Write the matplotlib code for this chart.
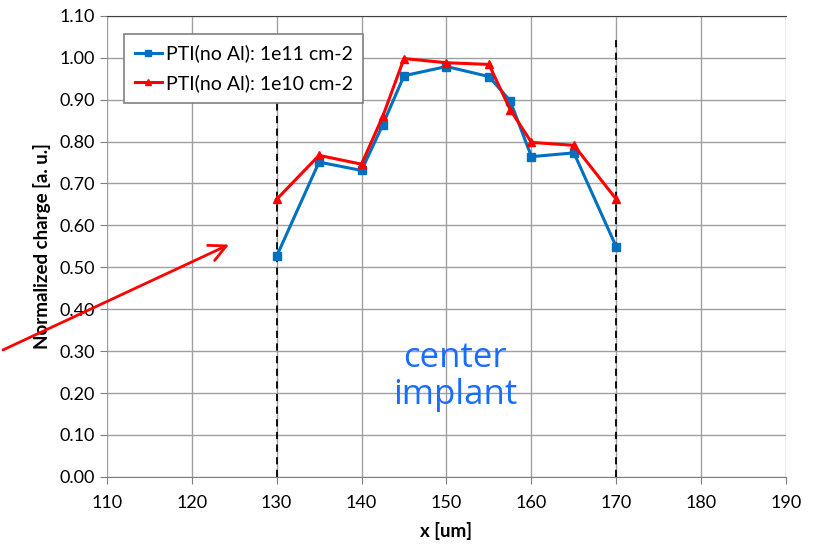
import matplotlib.pyplot as plt

# Values
x_pos = [130, 135, 140, 142.5, 145, 150, 155, 157.5, 160, 165, 170]
charge_1e11 = [0.526, 0.751, 0.731, 0.840, 0.957, 0.979, 0.955, 0.897, 0.764, 0.773, 0.548]
charge_1e10 = [0.662, 0.767, 0.746, 0.860, 0.998, 0.988, 0.984, 0.876, 0.798, 0.791, 0.662]
label_1e11 = 'PTI(no Al): 1e11 cm-2'
label_1e10 = 'PTI(no Al): 1e10 cm-2'
implant_edges = [130, 170]

plt.rcParams['font.family'] = ['Lato', 'DejaVu Sans']

fig = plt.figure(figsize=(8.14, 5.45), dpi=100)
ax = fig.add_axes([0.131, 0.125, 0.835, 0.846])

# dashed lines marking the implant edges
for xe in implant_edges:
    ax.plot([xe, xe], [0, 1.05], color='black', linestyle=(0, (4, 3)), linewidth=1.3, zorder=2)

ax.plot(x_pos, charge_1e11, color='#0070C0', marker='s', markersize=6, linewidth=2.2,
        label=label_1e11, zorder=3)
ax.plot(x_pos, charge_1e10, color='#FF0000', marker='^', markersize=6, linewidth=2.2,
        label=label_1e10, zorder=3)

ax.set_xlim(110, 190)
ax.set_ylim(0, 1.10)
ax.set_xticks(range(110, 191, 10))
ax.set_yticks([i / 10 for i in range(12)])
ax.set_yticklabels([f'{i / 10:.2f}' for i in range(12)])
ax.grid(True, color='#a0a0a0', linewidth=1.0)
ax.set_axisbelow(True)
for side in ['left', 'right']:
    ax.spines[side].set_visible(False)
ax.spines['top'].set_color('#404040')
ax.spines['bottom'].set_color('#808080')
ax.tick_params(axis='both', colors='#808080', labelcolor='black', labelsize=13, length=5)
ax.tick_params(axis='x', pad=8)

ax.set_xlabel('x [um]', fontsize=13.5, fontweight='bold', labelpad=8)
ax.set_ylabel('Normalized charge [a. u.]', fontsize=13.5, fontweight='bold', labelpad=6)

leg = ax.legend(loc='upper left', bbox_to_anchor=(0.011, 0.982), fontsize=14, frameon=True,
                fancybox=False, edgecolor='#808080', framealpha=1, borderpad=0.55,
                handlelength=1.4, handletextpad=0.2, labelspacing=0.6, markerscale=0.8)
leg.get_frame().set_linewidth(1.2)
leg.set_zorder(5)

ax.text(151, 0.24, 'center\nimplant', color='#1a6cff', fontsize=25, ha='center',
        va='center', linespacing=1.1, fontfamily=['Open Sans', 'DejaVu Sans'])

ax.annotate('', xy=(124.7, 0.557), xytext=(97.5, 0.30), annotation_clip=False,
            arrowprops=dict(arrowstyle='->', color='#FF0000', lw=2.0, mutation_scale=30))

fig.savefig('out.png', dpi=100)
